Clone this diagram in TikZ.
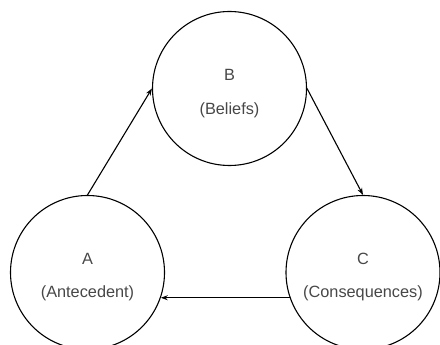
\documentclass[tikz,border=0pt]{standalone}
\usepackage{fontspec}
\setmainfont{Liberation Sans}
\usetikzlibrary{arrows.meta}
\begin{document}
\begin{tikzpicture}[x=1pt,y=-1pt,
  ring/.style={circle,draw=black,line width=1.1pt,minimum size=154pt,inner sep=0pt},
  txt/.style={text=black!72,font=\fontsize{16.3}{19}\selectfont,inner sep=0pt},
  conn/.style={line width=1.1pt,-{Stealth[length=7pt,width=5pt]}}]
\useasboundingbox (0,0) rectangle (440,345);
\clip (0,0) rectangle (440,345);
\node[ring] (B) at (229.5,88.5) {};
\node[ring] (A) at (87.5,272.5) {};
\node[ring] (C) at (363,272.5) {};
\node[txt] (Bl) at (229.5,75) {B};
\node[txt] (Bt) at (229.5,110) {(Beliefs)};
\node[txt] (Al) at (87.5,258.5) {A};
\node[txt] (At) at (87.5,293.5) {(Antecedent)};
\node[txt] (Cl) at (363,258.5) {C};
\node[txt] (Ct) at (363,293.5) {(Consequences)};
\draw[conn] (A.north) -- (B.west);
\draw[conn] (B.east) -- (C.north);
\draw[conn] (C.199) -- (A.341);
\end{tikzpicture}
\end{document}
